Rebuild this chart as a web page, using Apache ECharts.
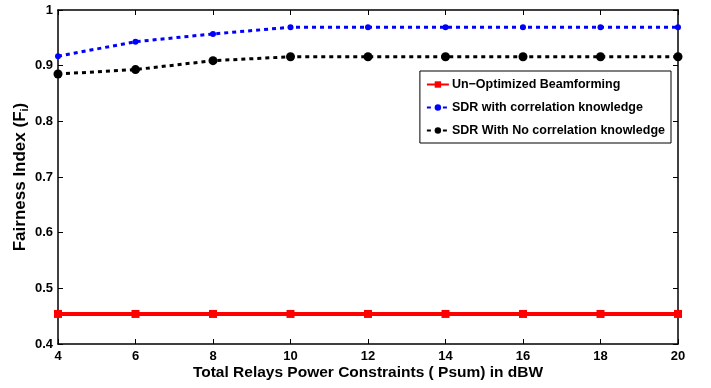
<!DOCTYPE html>
<html>
<head>
<meta charset="utf-8">
<script src="https://cdn.jsdelivr.net/npm/echarts@6/dist/echarts.min.js"></script>
<style>
  html, body { margin: 0; padding: 0; background: #fff; }
  #main { width: 711px; height: 388px; }
</style>
</head>
<body>
<div id="main"></div>
<script>
// power constraint in dBW
var powers = [4, 6, 8, 10, 12, 14, 16, 18, 20];
var unOptimized = [0.454, 0.454, 0.454, 0.454, 0.454, 0.454, 0.454, 0.454, 0.454];
var sdrCorr = [0.917, 0.943, 0.957, 0.969, 0.969, 0.969, 0.969, 0.969, 0.969];
var sdrNoCorr = [0.885, 0.893, 0.909, 0.916, 0.916, 0.916, 0.916, 0.916, 0.916];
var names = ['Un\u2212Optimized Beamforming', 'SDR with correlation knowledge', 'SDR With No correlation knowledge'];

function pairs(ys) {
  var out = [];
  for (var i = 0; i < powers.length; i++) {
    out.push([powers[i], ys[i]]);
  }
  return out;
}

var font = 'Liberation Sans, Arial, sans-serif';
var myChart = echarts.init(document.getElementById('main'));
var frameAxis = {
  axisLine: { show: true, lineStyle: { color: '#000', width: 1.5 } },
  axisTick: { show: true, inside: true, length: 5, lineStyle: { color: '#000' } },
  axisLabel: { show: false },
  splitLine: { show: false }
};
var option = {
  animation: false,
  backgroundColor: '#fff',
  grid: { left: 58, right: 33, top: 10, bottom: 44, outerBoundsMode: 'none', containLabel: false },
  legend: {
    orient: 'vertical',
    right: 40,
    top: 71,
    backgroundColor: '#fff',
    borderColor: '#000',
    borderWidth: 1,
    padding: [7, 6, 6, 6],
    itemGap: 10,
    itemWidth: 22,
    itemHeight: 8,
    textStyle: { fontFamily: font, fontWeight: 'bold', fontSize: 12.5, color: '#000', padding: [0, 0, 0, -2] },
    data: names
  },
  xAxis: [
    Object.assign({}, frameAxis, {
      type: 'value', min: 4, max: 20, interval: 2,
      name: 'Total Relays Power Constraints ( Psum) in dBW',
      nameLocation: 'middle', nameGap: 21, nameMoveOverlap: false,
      nameTextStyle: { fontFamily: font, fontWeight: 'bold', fontSize: 15.5, color: '#000' },
      axisLabel: { show: true, fontFamily: font, fontWeight: 'bold', fontSize: 13, color: '#000', margin: 6 }
    }),
    Object.assign({}, frameAxis, { type: 'value', min: 4, max: 20, interval: 2, position: 'top' })
  ],
  yAxis: [
    Object.assign({}, frameAxis, {
      type: 'value', min: 0.4, max: 1, interval: 0.1,
      name: '{a|Fairness Index (F}{b|i}{a|)}',
      nameLocation: 'middle', nameGap: 28, nameMoveOverlap: false,
      nameTextStyle: {
        rich: {
          a: { fontFamily: font, fontWeight: 'bold', fontSize: 17, color: '#000' },
          b: { fontFamily: font, fontWeight: 'bold', fontSize: 11, color: '#000', padding: [9, 0, 0, 0] }
        }
      },
      axisLabel: { show: true, fontFamily: font, fontWeight: 'bold', fontSize: 13, color: '#000', margin: 5 }
    }),
    Object.assign({}, frameAxis, { type: 'value', min: 0.4, max: 1, interval: 0.1, position: 'right' })
  ],
  series: [
    {
      name: names[0], type: 'line', data: pairs(unOptimized),
      symbol: 'rect', symbolSize: 8,
      lineStyle: { color: '#ff0000', width: 4 },
      itemStyle: { color: '#ff0000' }
    },
    {
      name: names[1], type: 'line', data: pairs(sdrCorr),
      symbol: 'circle', symbolSize: 6,
      lineStyle: { color: '#0000ff', width: 3, type: [4, 4] },
      itemStyle: { color: '#0000ff' }
    },
    {
      name: names[2], type: 'line', data: pairs(sdrNoCorr),
      symbol: 'circle', symbolSize: 9,
      lineStyle: { color: '#000', width: 3, type: [4, 4] },
      itemStyle: { color: '#000' }
    }
  ]
};
myChart.setOption(option);
window.onresize = myChart.resize;
</script>
</body>
</html>
